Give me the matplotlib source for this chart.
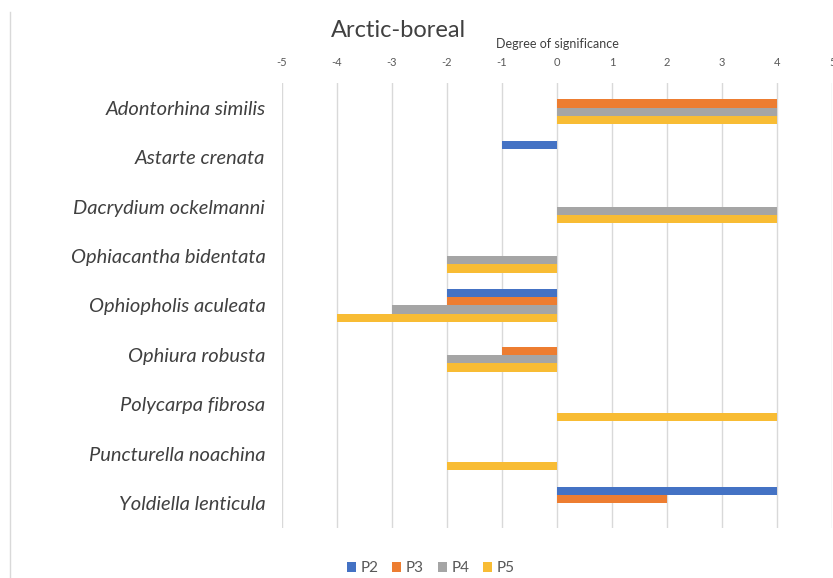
import numpy as np
import matplotlib.pyplot as plt
from matplotlib.lines import Line2D

species = ['Adontorhina similis', 'Astarte crenata', 'Dacrydium ockelmanni',
           'Ophiacantha bidentata', 'Ophiopholis aculeata', 'Ophiura robusta',
           'Polycarpa fibrosa', 'Puncturella noachina', 'Yoldiella lenticula']
p2 = [0, -1, 0, 0, -2, 0, 0, 0, 4]
p3 = [4, 0, 0, 0, -2, -1, 0, 0, 2]
p4 = [4, 0, 4, -2, -3, -2, 0, 0, 0]
p5 = [4, 0, 4, -2, -4, -2, 4, -2, 0]
series = ['P2', 'P3', 'P4', 'P5']
colors = ['#4472C4', '#ED7D31', '#A5A5A5', '#F8BC34']
ticks = list(range(-5, 6))

plt.rcParams['font.family'] = ['Lato', 'DejaVu Sans']

fig = plt.figure(figsize=(8.33, 5.78), dpi=100)
ax = fig.add_axes([0.3385, 0.0865, 0.6605, 0.77])

y = np.arange(len(species))
h = 0.168
for i, (vals, c, name) in enumerate(zip([p2, p3, p4, p5], colors, series)):
    ax.barh(y + (i - 1.5) * h, vals, height=h, color=c, label=name, zorder=3)

ax.set_xlim(-5, 5)
ax.set_ylim(len(species) - 0.5, -0.5)
ax.set_xticks(ticks)
ax.set_xticklabels([str(t) for t in ticks])
ax.xaxis.tick_top()
ax.xaxis.set_label_position('top')
ax.set_xlabel('Degree of significance', fontsize=9, color='#404040', labelpad=6)
ax.tick_params(axis='x', length=0, pad=11, labelsize=8, labelcolor='#595959')
ax.set_yticks(y)
ax.set_yticklabels(species, fontsize=14.5, style='italic', color='#404040')
ax.tick_params(axis='y', length=0, pad=12)
ax.grid(axis='x', color='#D9D9D9', linewidth=1, zorder=0)
for s in ax.spines.values():
    s.set_visible(False)

fig.text(0.478, 0.947, 'Arctic-boreal', fontsize=17, color='#404040', ha='center', va='center')

fig.legend(loc='center', bbox_to_anchor=(0.517, 0.017), ncol=4, frameon=False,
           fontsize=11, handlelength=0.6, handleheight=0.6, handletextpad=0.3,
           columnspacing=0.9, labelcolor='#595959')

fig.add_artist(Line2D([0.012, 0.012], [0.0, 0.98], color='#D9D9D9', linewidth=1))

fig.savefig('out.png', dpi=100)
